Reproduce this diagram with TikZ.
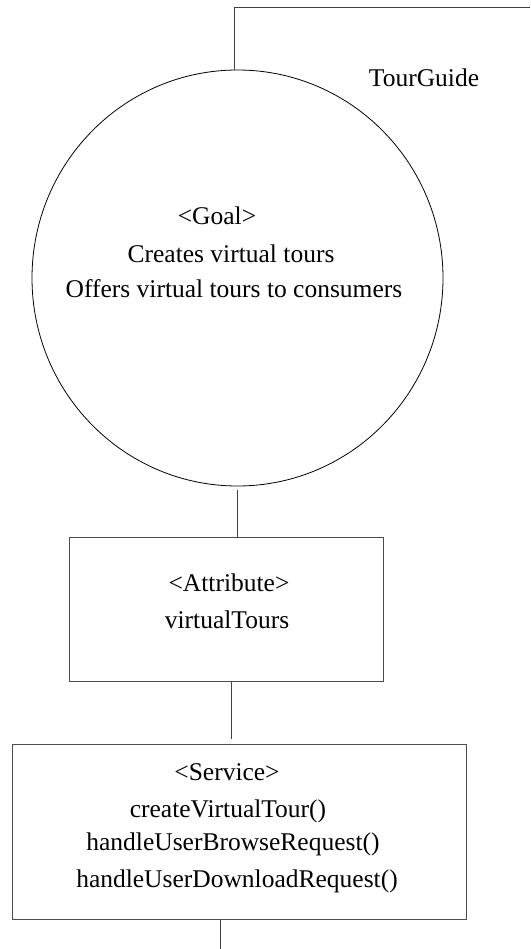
\documentclass[tikz,border=0pt]{standalone}
\usepackage{fontspec}
\setmainfont{Liberation Serif}
\usetikzlibrary{shapes.geometric}
\begin{document}
\begin{tikzpicture}[x=1pt,y=-1pt,
  lbl/.style={anchor=base,inner sep=0pt,font=\fontsize{25.5}{30}\selectfont},
  box/.style={draw=black!70,line width=1pt,rectangle,inner sep=0pt},
  conn/.style={draw=black!75,line width=1pt},
  goalshape/.style={draw=black,line width=0.8pt,ellipse,inner sep=0pt}]
\useasboundingbox (0,0) rectangle (530,949);
% shapes
\node[goalshape,minimum width=411pt,minimum height=416pt] (goal) at (237.5,278) {};
\node[box,minimum width=314pt,minimum height=144pt] (attr) at (226,609) {};
\node[box,minimum width=454pt,minimum height=175pt] (svc) at (239,831.5) {};
\coordinate (tr) at (530,8);
\coordinate (corner) at (234,8);
\coordinate (bot) at (220,949);
% texts
\node[lbl] (tg) at (424,87) {TourGuide};
\node[lbl] (g1) at (217,225) {<Goal>};
\node[lbl] (g2) at (231,262) {Creates virtual tours};
\node[lbl] (g3) at (234,298) {Offers virtual tours to consumers};
\node[lbl] (a1) at (229,591) {<Attribute>};
\node[lbl] (a2) at (227,628) {virtualTours};
\node[lbl] (s1) at (227,780) {<Service>};
\node[lbl] (s2) at (228,817) {createVirtualTour()};
\node[lbl] (s3) at (233,850) {handleUserBrowseRequest()};
\node[lbl] (s4) at (237,887) {handleUserDownloadRequest()};
% connectors
\draw[conn] (tr) -- (corner) -- (goal.north -| corner);
\draw[conn] ([yshift=-4pt]goal.south) -- (goal.south |- attr.north);
\draw[conn,shorten >=5pt] ([xshift=5pt]attr.south) -- ([xshift=5pt]attr.south |- svc.north);
\draw[conn] (svc.south -| bot) -- (bot);
\end{tikzpicture}
\end{document}
